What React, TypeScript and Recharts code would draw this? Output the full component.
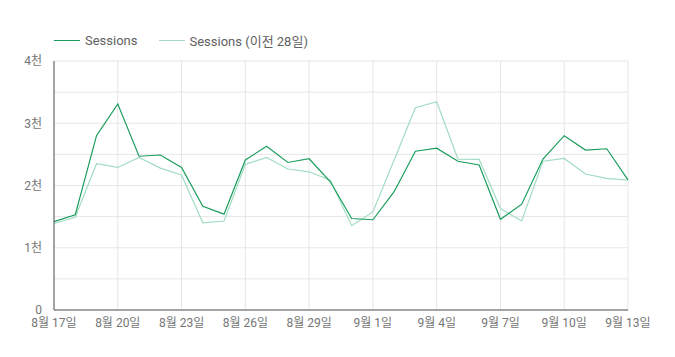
import React from 'react';
import { LineChart, Line, XAxis, YAxis, CartesianGrid } from 'recharts';

const dates = [
  '8월 17일','8월 18일','8월 19일','8월 20일','8월 21일','8월 22일','8월 23일',
  '8월 24일','8월 25일','8월 26일','8월 27일','8월 28일','8월 29일','8월 30일',
  '8월 31일','9월 1일','9월 2일','9월 3일','9월 4일','9월 5일','9월 6일',
  '9월 7일','9월 8일','9월 9일','9월 10일','9월 11일','9월 12일','9월 13일',
];
const sessions = [
  1420, 1530, 2800, 3310, 2470, 2490, 2290, 1665, 1540, 2410, 2630, 2370, 2430, 2060,
  1470, 1450, 1900, 2550, 2600, 2390, 2330, 1457, 1700, 2425, 2800, 2570, 2590, 2090,
];
const sessionsPrev = [
  1390, 1490, 2350, 2290, 2450, 2280, 2170, 1400, 1430, 2340, 2450, 2265, 2220, 2085,
  1355, 1575, 2410, 3250, 3345, 2425, 2420, 1630, 1430, 2390, 2435, 2185, 2115, 2085,
];
const yTicks = [0, 500, 1000, 1500, 2000, 2500, 3000, 3500, 4000];
const legendLabels = ['Sessions', 'Sessions (이전 28일)'];

const data = dates.map((d, i) => ({ date: d, s: sessions[i], p: sessionsPrev[i] }));

const DARK = '#1a9d5c';
const LIGHT = '#a3dcc2';
const FONT = "Roboto, 'Noto Sans CJK KR', sans-serif";

const fmtY = (v: number) => (v === 0 ? '0' : v % 1000 === 0 ? `${v / 1000}천` : '');

const LegendBox = () => (
  <div style={{ position: 'absolute', left: 54, top: 31, display: 'flex', alignItems: 'center', fontFamily: FONT, fontSize: 13, color: '#616161', height: 18, whiteSpace: 'nowrap' }}>
    <span style={{ display: 'inline-block', width: 26, height: 1, background: DARK, marginRight: 5 }} />
    <span style={{ marginRight: 21 }}>{legendLabels[0]}</span>
    <span style={{ display: 'inline-block', width: 26, height: 1, background: LIGHT, marginRight: 5 }} />
    <span>{legendLabels[1]}</span>
  </div>
);

export default function App() {
  return (
    <div style={{ position: 'absolute', left: 0, top: 0, width: 675, height: 357, background: '#fff' }}>
      <LineChart width={675} height={357} data={data} margin={{ top: 61, right: 47, bottom: 0, left: 0 }}>
        <CartesianGrid stroke="#e6e6e6" strokeWidth={1} />
        <XAxis
          dataKey="date"
          interval={2}
          tickLine={false}
          tickSize={0}
          tickMargin={8}
          axisLine={{ stroke: '#555', strokeWidth: 1 }}
          tick={{ fill: '#757575', fontSize: 12, fontFamily: FONT }}
          height={47}
        />
        <YAxis
          domain={[0, 4000]}
          ticks={yTicks}
          interval={0}
          tickFormatter={fmtY}
          tickLine={false}
          tickSize={0}
          tickMargin={12}
          width={54}
          axisLine={{ stroke: '#555', strokeWidth: 1 }}
          tick={{ fill: '#757575', fontSize: 12, fontFamily: FONT }}
        />
        <Line type="linear" dataKey="p" stroke={LIGHT} strokeWidth={1.2} dot={false} isAnimationActive={false} />
        <Line type="linear" dataKey="s" stroke={DARK} strokeWidth={1.2} dot={false} isAnimationActive={false} />
      </LineChart>
      <LegendBox />
    </div>
  );
}
